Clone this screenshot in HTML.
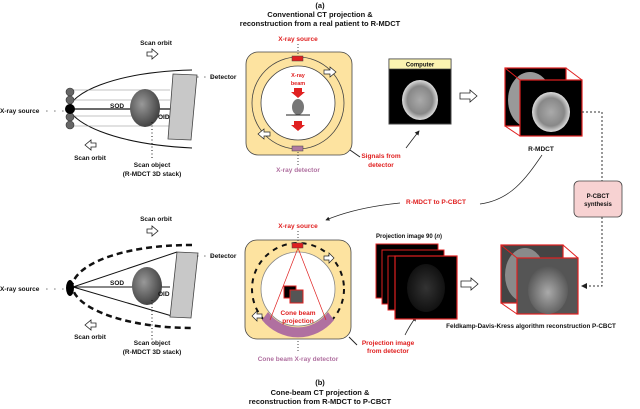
<!DOCTYPE html>
<html><head><meta charset="utf-8"><style>
html,body{margin:0;padding:0;background:#fff;}
svg{display:block;font-family:"Liberation Sans",sans-serif;font-weight:bold;}
</style></head><body>
<svg width="640" height="409" viewBox="0 0 640 409" xmlns="http://www.w3.org/2000/svg">
<defs>
<marker id="ah" markerWidth="6" markerHeight="6" refX="5" refY="3" orient="auto"><path d="M0,0 L6,3 L0,6 Z" fill="#222"/></marker>
<radialGradient id="hd" cx="40%" cy="40%" r="60%"><stop offset="0" stop-color="#999"/><stop offset="1" stop-color="#444"/></radialGradient>
<radialGradient id="ct" cx="50%" cy="50%" r="50%"><stop offset="0" stop-color="#aaa"/><stop offset="0.7" stop-color="#888"/><stop offset="1" stop-color="#ddd"/></radialGradient>
<radialGradient id="pj" cx="50%" cy="50%" r="50%"><stop offset="0" stop-color="#333"/><stop offset="1" stop-color="#111"/></radialGradient>
<radialGradient id="nz" cx="50%" cy="55%" r="55%"><stop offset="0" stop-color="#aaa"/><stop offset="0.6" stop-color="#777"/><stop offset="1" stop-color="#555"/></radialGradient>
</defs>
<g font-size="7.5" text-anchor="middle" fill="#111">
<text x="320" y="8">(a)</text>
<text x="320" y="17">Conventional CT projection &amp;</text>
<text x="320" y="26">reconstruction from a real patient to R-MDCT</text>
<text x="320" y="385">(b)</text>
<text x="320" y="395">Cone-beam CT projection &amp;</text>
<text x="320" y="404">reconstruction from R-MDCT to P-CBCT</text>
</g>
<!-- TOP LEFT -->
<g font-size="6.5" fill="#111">
<text x="156" y="45" text-anchor="middle">Scan orbit</text>
<path d="M147,52 h5 v-3 l6,5 -6,5 v-3 h-5 z" fill="#fff" stroke="#222" stroke-width="0.8"/>
<path d="M192,70 C110,72 70,95 70,108 C70,121 110,144 192,148" fill="none" stroke="#111" stroke-width="1"/>
<g stroke="#888" stroke-width="0.6"><line x1="70" y1="90" x2="170" y2="90"/><line x1="70" y1="100" x2="170" y2="100"/><line x1="70" y1="116" x2="170" y2="116"/><line x1="70" y1="126" x2="170" y2="126"/></g>
<line x1="70" y1="109" x2="172" y2="109" stroke="#111" stroke-width="1.2"/>
<g fill="#666" stroke="#333" stroke-width="0.6"><circle cx="70" cy="92" r="4"/><circle cx="70" cy="100" r="4"/><circle cx="70" cy="117" r="4"/><circle cx="70" cy="125" r="4"/></g>
<circle cx="70" cy="109" r="5" fill="#000"/>
<text x="0" y="113">X-ray source</text>
<text x="46" y="113" letter-spacing="2">· · ·</text>
<ellipse cx="145" cy="108" rx="15" ry="19" fill="url(#hd)"/>
<path d="M173,74 L197,75 L191,140 L168,139 Z" fill="#c8c8c8" stroke="#444" stroke-width="0.8"/>
<text x="197" y="79" letter-spacing="1.5">· · ·</text><text x="210" y="79">Detector</text>
<text x="110" y="108">SOD</text><text x="158" y="119">OID</text>
<path d="M96,143 h-5 v-3 l-6,5 6,5 v-3 h5 z" fill="#fff" stroke="#222" stroke-width="0.8"/>
<text x="90" y="160" text-anchor="middle">Scan orbit</text>
<line x1="152" y1="122" x2="152" y2="160" stroke="#111" stroke-dasharray="1,2.5"/>
<text x="152" y="167" text-anchor="middle">Scan object</text>
<text x="152" y="176" text-anchor="middle">(R-MDCT 3D stack)</text>
</g>
<!-- TOP SCANNER -->
<g font-size="6.5">
<rect x="246" y="52" width="106" height="103" rx="12" fill="#fde3a0" stroke="#444" stroke-width="0.8"/>
<circle cx="298" cy="103" r="46" fill="none" stroke="#444" stroke-width="0.8"/>
<circle cx="298" cy="103" r="37" fill="#fff" stroke="#444" stroke-width="0.8"/>
<text x="298" y="41" fill="#e02020" text-anchor="middle">X-ray source</text>
<line x1="298" y1="44" x2="298" y2="55" stroke="#444" stroke-dasharray="1,2"/>
<rect x="292" y="56" width="11" height="5" fill="#e02020" stroke="#444" stroke-width="0.5"/>
<text x="298" y="77" fill="#e02020" text-anchor="middle" font-size="5.5">X-ray</text>
<text x="298" y="85" fill="#e02020" text-anchor="middle" font-size="5.5">beam</text>
<path d="M294,88 h8 v4 h3 l-7,6 -7,-6 h3 z" fill="#e02020"/>
<ellipse cx="298" cy="107" rx="6" ry="8" fill="#777"/>
<line x1="286" y1="115" x2="310" y2="115" stroke="#222"/>
<path d="M294,121 h8 v4 h3 l-7,6 -7,-6 h3 z" fill="#e02020"/>
<rect x="292" y="146" width="11" height="5" fill="#b07aa0" stroke="#444" stroke-width="0.5"/>
<line x1="298" y1="152" x2="298" y2="165" stroke="#444" stroke-dasharray="1,2"/>
<text x="298" y="172" fill="#b070a0" text-anchor="middle">X-ray detector</text>
<path d="M270,136 l-6,0 v3 l-6,-5 6,-5 v3 h6 z" fill="#fff" stroke="#222" stroke-width="0.7"/>
<path d="M324,70 l6,0 v-3 l6,5 -6,5 v-3 h-6 z" fill="#fff" stroke="#222" stroke-width="0.7"/>
<line x1="350" y1="150" x2="360" y2="157" stroke="#222"/>
<text x="381" y="158" fill="#e02020" text-anchor="middle">Signals from</text>
<text x="381" y="167" fill="#e02020" text-anchor="middle">detector</text>
<path d="M406,148 Q412,140 419,131" fill="none" stroke="#222" stroke-width="0.8" marker-end="url(#ah)"/>
<rect x="389" y="59" width="62" height="65" fill="#000" stroke="#444"/>
<rect x="389" y="59" width="62" height="10" fill="#fbf3b0" stroke="#444" stroke-width="0.7"/>
<text x="420" y="66.5" text-anchor="middle" font-size="6" fill="#111">Computer</text>
<ellipse cx="420" cy="100" rx="18" ry="20" fill="url(#ct)"/>
<path d="M460,93 h10 v-3 l7,6 -7,6 v-3 h-10 z" fill="#fff" stroke="#222" stroke-width="0.8"/>
<!-- RMDCT cube -->
<rect x="505" y="68" width="61" height="58" fill="#000" stroke="#e02020" stroke-width="1.2"/>
<ellipse cx="530" cy="100" rx="22" ry="28" fill="#999"/>
<line x1="505" y1="68" x2="520" y2="80" stroke="#e02020"/><line x1="566" y1="68" x2="582" y2="80" stroke="#e02020"/><line x1="505" y1="126" x2="520" y2="136" stroke="#e02020"/>
<rect x="520" y="80" width="62" height="56" fill="#000" stroke="#e02020" stroke-width="1.2"/>
<ellipse cx="551" cy="112" rx="19" ry="20" fill="url(#ct)"/>
<text x="541" y="151" text-anchor="middle" fill="#111">R-MDCT</text>
<path d="M582,112 H602 V181" fill="none" stroke="#333" stroke-dasharray="2,2"/>
<rect x="574" y="181" width="48" height="36" rx="5" fill="#f7d2d2" stroke="#444" stroke-width="0.8"/>
<text x="598" y="198" text-anchor="middle" font-size="6" fill="#111">P-CBCT</text>
<text x="598" y="206" text-anchor="middle" font-size="6" fill="#111">synthesis</text>
<path d="M602,217 V286 H582" fill="none" stroke="#333" stroke-dasharray="2,2" marker-end="url(#ah)"/>
<path d="M542,155 C525,180 510,200 480,204" fill="none" stroke="#222" stroke-width="0.7"/>
<text x="436" y="204" fill="#e02020" text-anchor="middle">R-MDCT to P-CBCT</text>
<path d="M400,203 C370,206 345,212 326,220" fill="none" stroke="#222" stroke-width="0.7" marker-end="url(#ah)"/>
</g>
<!-- BOTTOM LEFT -->
<g font-size="6.5" fill="#111">
<text x="156" y="221" text-anchor="middle">Scan orbit</text>
<path d="M147,229 h5 v-3 l6,5 -6,5 v-3 h-5 z" fill="#fff" stroke="#222" stroke-width="0.8"/>
<path d="M192,245 C120,245 75,265 72,286 C75,310 130,328 192,328" fill="none" stroke="#111" stroke-width="2.5" stroke-dasharray="6,4"/>
<path d="M73,287 L177,252 M73,287 L172,316 M73,287 L170,287" stroke="#111" stroke-width="1"/>
<ellipse cx="70" cy="288" rx="4" ry="8" fill="#000"/>
<text x="0" y="291">X-ray source</text>
<text x="46" y="291" letter-spacing="2">· · ·</text>
<ellipse cx="147" cy="286" rx="15" ry="19" fill="url(#hd)"/>
<path d="M177,252 L198,253 L191,318 L170,317 Z" fill="#c8c8c8" stroke="#444" stroke-width="0.8"/>
<text x="197" y="258" letter-spacing="1.5">· · ·</text><text x="210" y="258">Detector</text>
<text x="110" y="285">SOD</text><text x="158" y="296">OID</text>
<path d="M96,323 h-5 v-3 l-6,5 6,5 v-3 h5 z" fill="#fff" stroke="#222" stroke-width="0.8"/>
<text x="90" y="339" text-anchor="middle">Scan orbit</text>
<line x1="152" y1="300" x2="152" y2="340" stroke="#111" stroke-dasharray="1,2.5"/>
<text x="152" y="345" text-anchor="middle">Scan object</text>
<text x="152" y="354" text-anchor="middle">(R-MDCT 3D stack)</text>
</g>
<!-- BOTTOM SCANNER -->
<g font-size="6.5">
<rect x="245" y="240" width="106" height="99" rx="12" fill="#fde3a0" stroke="#444" stroke-width="0.8"/>
<circle cx="298" cy="289" r="46" fill="none" stroke="#111" stroke-width="2" stroke-dasharray="5,5"/>
<path d="M262,320 A46,46 0 0 0 334,320 L328,312 A37,37 0 0 1 268,312 Z" fill="#b070a0"/>
<circle cx="298" cy="289" r="37" fill="#fff" stroke="#888" stroke-width="0.8"/>
<text x="298" y="228" fill="#e02020" text-anchor="middle">X-ray source</text>
<line x1="298" y1="231" x2="298" y2="242" stroke="#444" stroke-dasharray="1,2"/>
<rect x="292" y="243" width="11" height="5" fill="#e02020" stroke="#444" stroke-width="0.5"/>
<path d="M298,248 L270,320 M298,248 L326,320" stroke="#e02020" stroke-width="0.7" fill="none"/>
<rect x="284" y="286" width="12" height="12" fill="#000" stroke="#e02020"/>
<rect x="290" y="290" width="13" height="13" fill="#555" stroke="#e02020"/>
<text x="298" y="315" fill="#e02020" text-anchor="middle">Cone beam</text>
<text x="298" y="323" fill="#e02020" text-anchor="middle">projection</text>
<path d="M262,318 l-5,0 v3 l-5,-5 5,-5 v3 h5 z" fill="#fff" stroke="#222" stroke-width="0.7"/>
<path d="M324,256 l5,0 v-3 l5,5 -5,5 v-3 h-5 z" fill="#fff" stroke="#222" stroke-width="0.7"/>
<line x1="298" y1="341" x2="298" y2="352" stroke="#444" stroke-dasharray="1,2"/>
<text x="298" y="361" fill="#b070a0" text-anchor="middle">Cone beam X-ray detector</text>
<line x1="349" y1="337" x2="357" y2="345" stroke="#222"/>
<text x="388" y="345" fill="#e02020" text-anchor="middle">Projection image</text>
<text x="388" y="353" fill="#e02020" text-anchor="middle">from detector</text>
<path d="M405,335 Q410,325 416,317" fill="none" stroke="#222" stroke-width="0.8" marker-end="url(#ah)"/>
<text x="409" y="238" text-anchor="middle" fill="#111" font-size="6">Projection image 90 (<tspan font-style="italic">n</tspan>)</text>
<rect x="376" y="244" width="62" height="54" fill="#000" stroke="#e02020"/>
<rect x="382" y="250" width="62" height="54" fill="#000" stroke="#e02020"/>
<rect x="388" y="256" width="62" height="54" fill="#000" stroke="#e02020"/>
<rect x="395" y="256" width="62" height="63" fill="#000" stroke="#e02020" stroke-width="1.2"/>
<ellipse cx="426" cy="288" rx="19" ry="24" fill="url(#pj)"/>
<path d="M461,281 h10 v-3 l7,6 -7,6 v-3 h-10 z" fill="#fff" stroke="#222" stroke-width="0.8"/>
<rect x="501" y="245" width="62" height="58" fill="#444" stroke="#e02020" stroke-width="1.2"/>
<ellipse cx="525" cy="275" rx="20" ry="27" fill="#8a8a8a"/>
<line x1="501" y1="245" x2="517" y2="258" stroke="#e02020"/><line x1="563" y1="245" x2="578" y2="258" stroke="#e02020"/><line x1="501" y1="303" x2="517" y2="314" stroke="#e02020"/>
<rect x="517" y="258" width="61" height="56" fill="#555" stroke="#e02020" stroke-width="1.2"/>
<ellipse cx="548" cy="290" rx="20" ry="24" fill="url(#nz)"/>
<text x="531" y="328" text-anchor="middle" fill="#111" font-size="6.3">Feldkamp-Davis-Kress algorithm reconstruction P-CBCT</text>
</g>
</svg>
</body></html>
